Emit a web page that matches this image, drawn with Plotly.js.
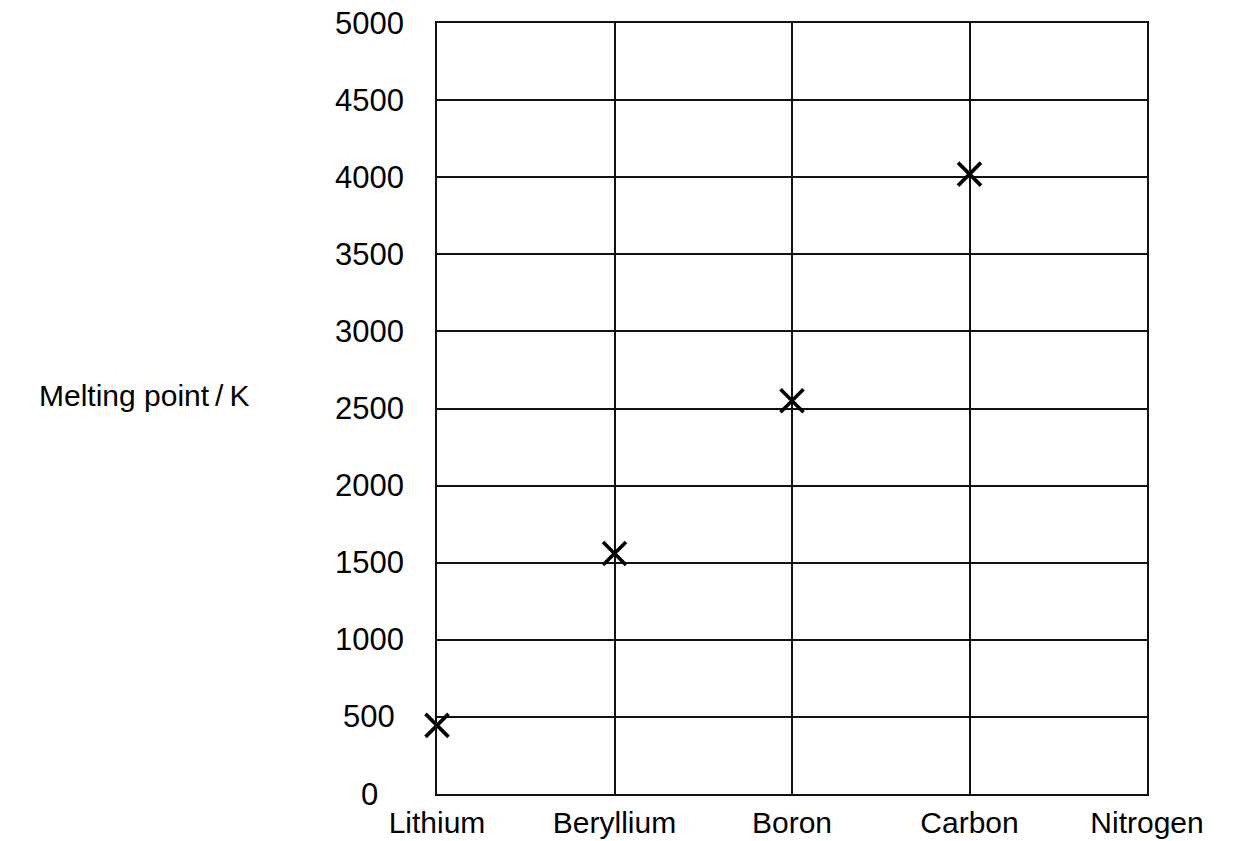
<!DOCTYPE html>
<html>
<head>
<meta charset="utf-8">
<script src="https://cdn.plot.ly/plotly-3.0.1.min.js"></script>
<style>html,body{margin:0;padding:0;background:#fff;}#chart{width:1235px;height:841px;}</style>
</head>
<body>
<div id="chart"></div>
<script>
const elements = ["Lithium", "Beryllium", "Boron", "Carbon", "Nitrogen"];
const meltingPoints = [445, 1560, 2550, 4020, null];
const yTicks = [0, 500, 1000, 1500, 2000, 2500, 3000, 3500, 4000, 4500, 5000];
const yTitle = "Melting point\u2009/\u2009K";

const FONT = "Liberation Sans, Arial, Helvetica, sans-serif";

const trace = {
  x: elements,
  y: meltingPoints,
  type: "scatter",
  mode: "markers",
  marker: {symbol: "x-thin-open", size: 23, color: "#000", line: {color: "#000", width: 3.6}},
  cliponaxis: false,
  hoverinfo: "x+y",
  showlegend: false
};

// y tick labels, centred in a column left of the axis (as in the reference)
const yLabelAnnotations = yTicks.map(v => ({
  text: String(v),
  xref: "paper", yref: "y",
  x: (369 - 437) / 710, y: v,
  xanchor: "center", yanchor: "middle",
  showarrow: false,
  font: {family: FONT, size: 31, color: "#000"}
}));

const layout = {
  width: 1235,
  height: 841,
  margin: {l: 437, r: 88, t: 23, b: 47},
  paper_bgcolor: "#fff",
  plot_bgcolor: "#fff",
  font: {family: FONT, size: 30, color: "#000"},
  xaxis: {
    type: "category",
    categoryorder: "array",
    categoryarray: elements,
    range: [0, 4],
    showgrid: true,
    gridcolor: "#111",
    gridwidth: 2,
    showline: true,
    linecolor: "#111",
    linewidth: 2,
    mirror: true,
    ticks: "",
    ticklabelstandoff: 1,
    tickfont: {family: FONT, size: 30, color: "#000"},
    zeroline: false,
    fixedrange: true
  },
  yaxis: {
    range: [0, 5000],
    tickmode: "array",
    tickvals: yTicks,
    showticklabels: false,
    showgrid: true,
    gridcolor: "#111",
    gridwidth: 2,
    showline: true,
    linecolor: "#111",
    linewidth: 2,
    mirror: true,
    ticks: "",
    zeroline: false,
    fixedrange: true
  },
  annotations: yLabelAnnotations.concat([{
    text: yTitle,
    xref: "paper", yref: "paper",
    x: -0.563, y: 0.517,
    xanchor: "left", yanchor: "middle",
    showarrow: false,
    font: {family: FONT, size: 30, color: "#000"}
  }])
};

Plotly.newPlot("chart", [trace], layout, {displayModeBar: false, staticPlot: true});
</script>
</body>
</html>
